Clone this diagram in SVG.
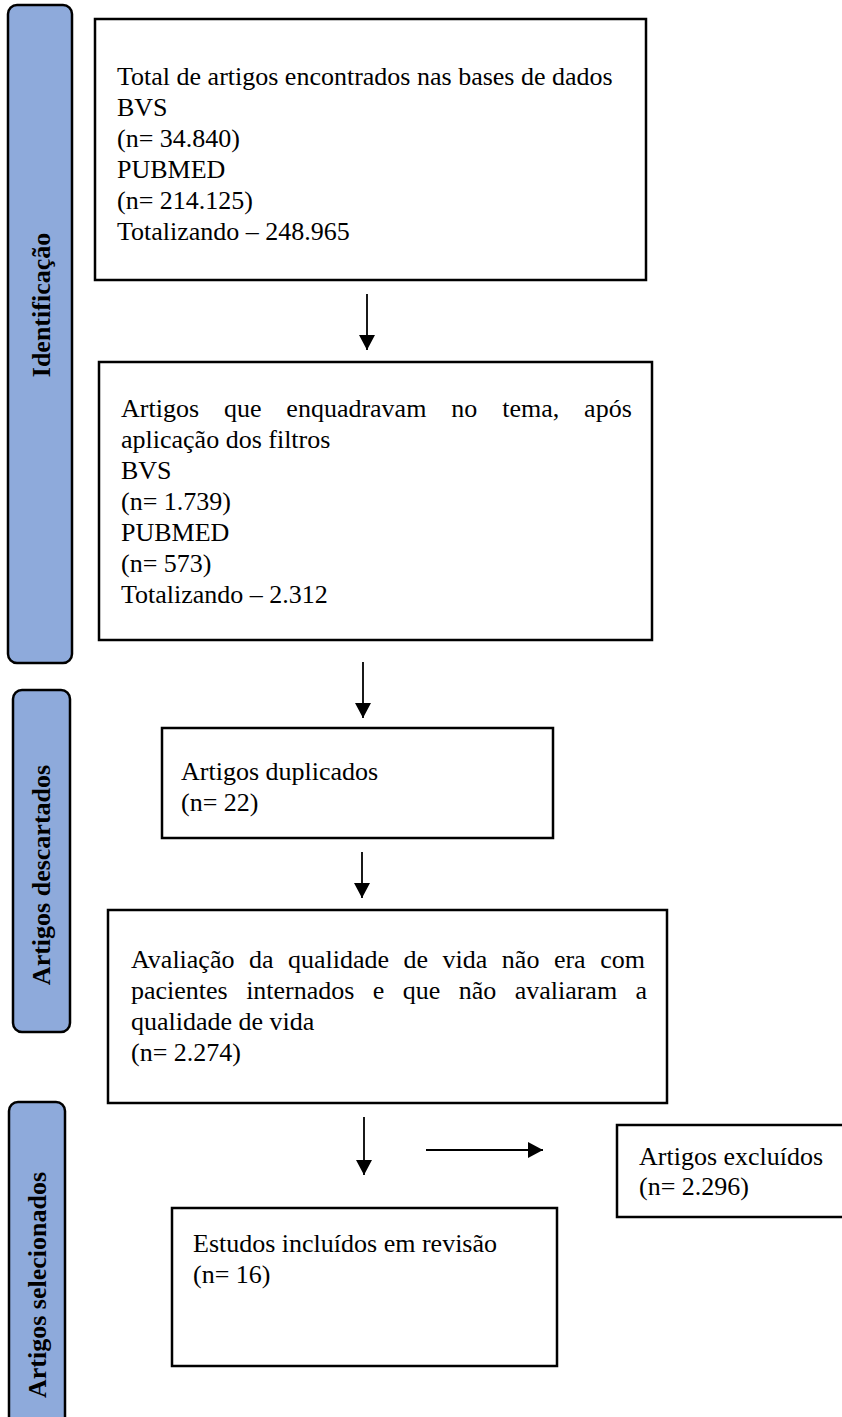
<svg xmlns="http://www.w3.org/2000/svg" width="842" height="1417" viewBox="0 0 842 1417">
<defs>
<marker id="ah" viewBox="0 0 15 16" refX="15" refY="8" markerWidth="15" markerHeight="16" orient="auto" markerUnits="userSpaceOnUse">
<path d="M0,0 L15,8 L0,16 Z" fill="#000"/>
</marker>
<style>
.side{fill:#8eaadb;stroke:#000;stroke-width:2.5}
.box{fill:#fff;stroke:#000;stroke-width:2.5}
.t{font-family:"Liberation Serif","Times New Roman",serif;font-size:26px;fill:#000}
.lbl{font-family:"Liberation Serif","Times New Roman",serif;font-size:26px;font-weight:bold;fill:#000}
.c{stroke:#000;stroke-width:1.8;fill:none}
</style>
</defs>
<rect width="842" height="1417" fill="#fff"/>
<g id="side-identificacao">
<rect class="side" x="8" y="5" width="64" height="658" rx="9"/>
<text class="lbl" text-anchor="middle" transform="translate(50,305) rotate(-90)">Identificação</text>
</g>
<g id="side-descartados">
<rect class="side" x="13" y="690" width="57" height="342" rx="9"/>
<text class="lbl" text-anchor="middle" transform="translate(50,875) rotate(-90)">Artigos descartados</text>
</g>
<g id="side-selecionados">
<rect class="side" x="9" y="1102" width="56" height="340" rx="9"/>
<text class="lbl" text-anchor="middle" transform="translate(46,1285) rotate(-90)">Artigos selecionados</text>
</g>
<g id="box-total">
<rect class="box" x="95" y="19" width="551" height="261"/>
<text class="t" x="117" y="85">Total de artigos encontrados nas bases de dados</text>
<text class="t" x="117" y="116">BVS</text>
<text class="t" x="117" y="147">(n= 34.840)</text>
<text class="t" x="117" y="178">PUBMED</text>
<text class="t" x="117" y="209">(n= 214.125)</text>
<text class="t" x="117" y="240">Totalizando – 248.965</text>
</g>
<g id="box-filtros">
<rect class="box" x="99" y="362" width="553" height="278"/>
<text class="t" x="121" y="417" word-spacing="18.4">Artigos que enquadravam no tema, após</text>
<text class="t" x="121" y="448">aplicação dos filtros</text>
<text class="t" x="121" y="479">BVS</text>
<text class="t" x="121" y="510">(n= 1.739)</text>
<text class="t" x="121" y="541">PUBMED</text>
<text class="t" x="121" y="572">(n= 573)</text>
<text class="t" x="121" y="603">Totalizando – 2.312</text>
</g>
<g id="box-duplicados">
<rect class="box" x="162" y="728" width="391" height="110"/>
<text class="t" x="181" y="780">Artigos duplicados</text>
<text class="t" x="181" y="811">(n= 22)</text>
</g>
<g id="box-avaliacao">
<rect class="box" x="108" y="910" width="559" height="193"/>
<text class="t" x="131" y="968" word-spacing="8">Avaliação da qualidade de vida não era com</text>
<text class="t" x="131" y="999" word-spacing="11.9">pacientes internados e que não avaliaram a</text>
<text class="t" x="131" y="1030">qualidade de vida</text>
<text class="t" x="131" y="1061">(n= 2.274)</text>
</g>
<g id="box-excluidos">
<rect class="box" x="617" y="1125" width="240" height="92"/>
<text class="t" x="639" y="1165">Artigos excluídos</text>
<text class="t" x="639" y="1195">(n= 2.296)</text>
</g>
<g id="box-incluidos">
<rect class="box" x="172" y="1208" width="385" height="158"/>
<text class="t" x="193" y="1252">Estudos incluídos em revisão</text>
<text class="t" x="193" y="1283">(n= 16)</text>
</g>
<g id="connectors">
<line class="c" x1="367" y1="294" x2="367" y2="350" marker-end="url(#ah)"/>
<line class="c" x1="363" y1="662" x2="363" y2="718" marker-end="url(#ah)"/>
<line class="c" x1="362" y1="852" x2="362" y2="898" marker-end="url(#ah)"/>
<line class="c" x1="364" y1="1117" x2="364" y2="1175" marker-end="url(#ah)"/>
<line class="c" x1="426" y1="1150" x2="543" y2="1150" marker-end="url(#ah)"/>
</g>
</svg>
